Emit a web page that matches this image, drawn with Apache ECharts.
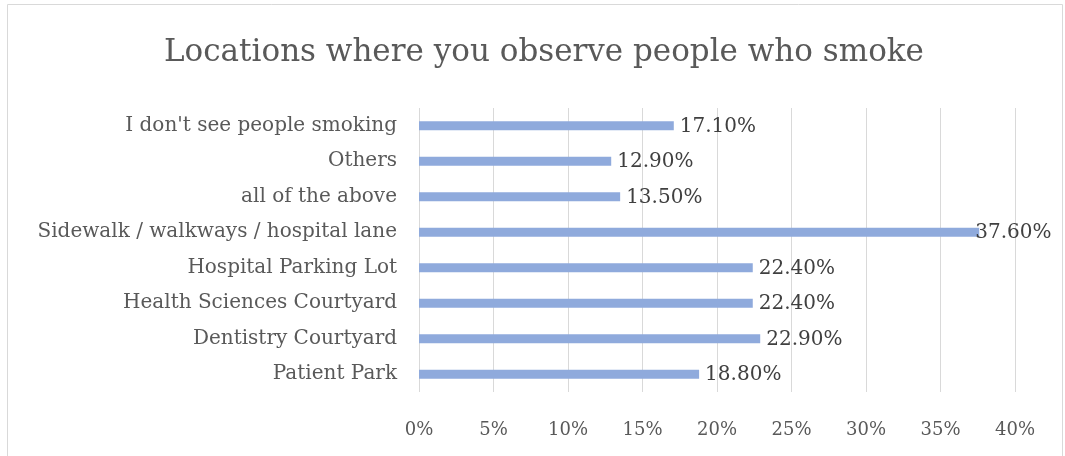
<!DOCTYPE html>
<html>
<head>
<meta charset="utf-8">
<script src="https://cdn.jsdelivr.net/npm/echarts@6/dist/echarts.min.js"></script>
<style>
  html, body { margin: 0; padding: 0; background: #ffffff; }
  #chart { width: 1065px; height: 456px; }
</style>
</head>
<body>
<div id="chart"></div>
<script>
// Survey responses, listed bottom-to-top as drawn on the category axis
const categories = [
  'Patient Park',
  'Dentistry Courtyard',
  'Health Sciences Courtyard',
  'Hospital Parking Lot',
  'Sidewalk / walkways / hospital lane',
  'all of the above',
  'Others',
  "I don't see people smoking"
];
const shares = [18.8, 22.9, 22.4, 22.4, 37.6, 13.5, 12.9, 17.1];
const tickValues = [0, 5, 10, 15, 20, 25, 30, 35, 40];

const FONT = 'DejaVu Serif';
const chart = echarts.init(document.getElementById('chart'));

// The longest bar's label is pulled back so it stays inside the frame
const maxShare = Math.max(...shares);
const barData = shares.map(v => v === maxShare
  ? { value: v, label: { offset: [-10, 1] } }
  : { value: v });

chart.setOption({
  animation: false,
  title: {
    text: 'Locations where you observe people who smoke',
    left: 159,
    top: 32,
    textStyle: { fontFamily: FONT, fontSize: 31, fontWeight: 'normal', color: '#595959' }
  },
  graphic: [{
    type: 'rect',
    shape: { x: 7.5, y: 4.5, width: 1055, height: 460 },
    style: { fill: 'none', stroke: '#d9d9d9', lineWidth: 1 },
    silent: true
  }],
  grid: { left: 419, right: 50, top: 108, height: 284 },
  xAxis: {
    type: 'value',
    min: tickValues[0],
    max: tickValues[tickValues.length - 1],
    interval: 5,
    axisLine: { show: false },
    axisTick: { show: false },
    splitLine: { lineStyle: { color: '#d9d9d9', width: 1 } },
    axisLabel: {
      formatter: v => v + '%',
      margin: 29,
      fontFamily: FONT, fontSize: 18, color: '#595959'
    }
  },
  yAxis: {
    type: 'category',
    data: categories,
    axisLine: { show: false },
    axisTick: { show: false },
    axisLabel: { margin: 22, fontFamily: FONT, fontSize: 20, color: '#595959' }
  },
  series: [{
    type: 'bar',
    data: barData,
    barWidth: 9,
    itemStyle: { color: '#8faadc' },
    label: {
      show: true,
      position: 'right',
      distance: 6,
      offset: [0, 1],
      formatter: p => p.value.toFixed(2) + '%',
      fontFamily: FONT, fontSize: 20, color: '#404040'
    }
  }]
});
</script>
</body>
</html>
